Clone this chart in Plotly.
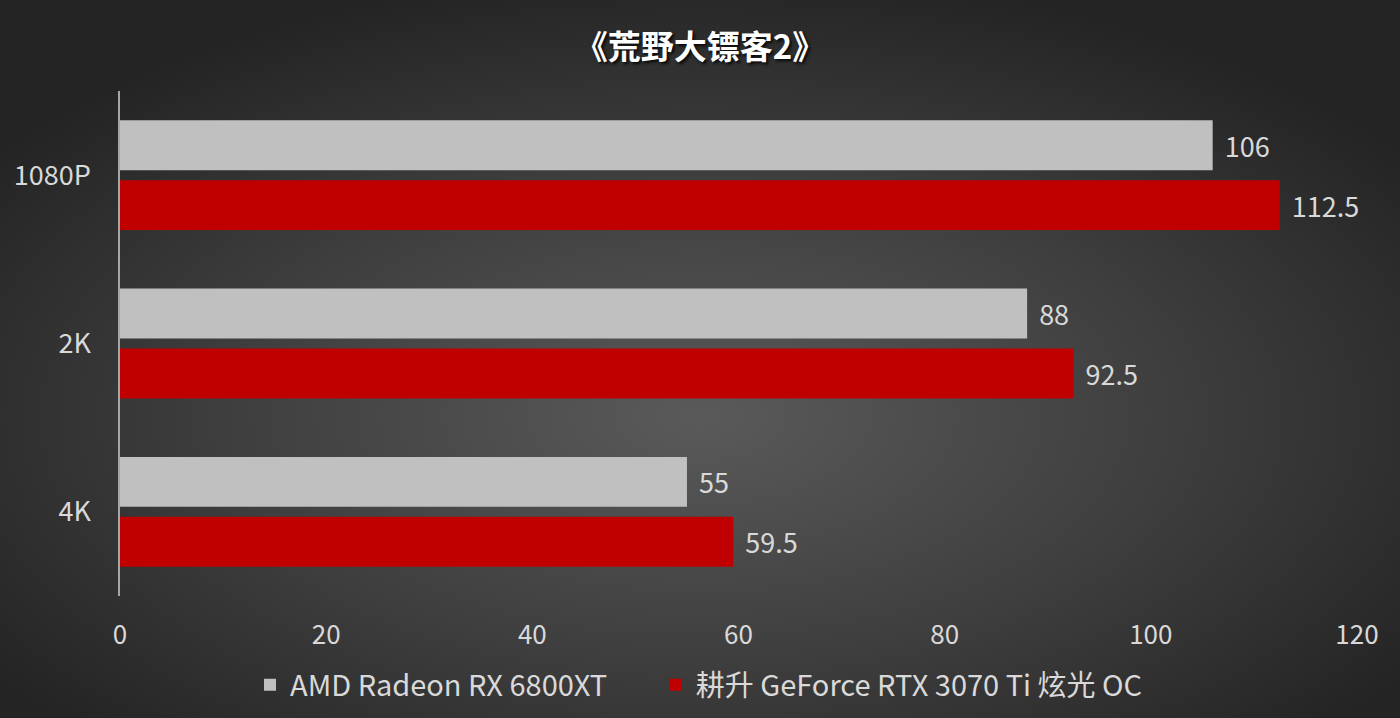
import base64
import plotly.graph_objects as go

categories = ["1080P", "2K", "4K"]
amd_name = "AMD Radeon RX 6800XT"
nv_name = "耕升 GeForce RTX 3070 Ti 炫光 OC"
amd_values = [106, 88, 55]
nv_values = [112.5, 92.5, 59.5]
x_ticks = [0, 20, 40, 60, 80, 100, 120]
title_text = "《荒野大镖客2》"

W, H = 1400, 718
ML, MR, MT, MB = 120, 43, 91, 122
PW, PH = W - ML - MR, H - MT - MB

svg = f'''<svg xmlns="http://www.w3.org/2000/svg" width="{W}" height="{H}" viewBox="0 0 {W} {H}" preserveAspectRatio="none">
<defs><radialGradient id="g" cx="50%" cy="58%" r="62%">
<stop offset="0" stop-color="#5a5a5a"/><stop offset="0.55" stop-color="#3e3e3e"/><stop offset="1" stop-color="#242424"/>
</radialGradient></defs><rect width="{W}" height="{H}" fill="url(#g)"/></svg>'''
bg_uri = "data:image/svg+xml;base64," + base64.b64encode(svg.encode()).decode()

FONT = "Noto Sans CJK SC, Open Sans, sans-serif"
TXT = "#d9d9d9"
PAD = "\u2004"
LEGEND_GAP = "\u2002\u2002\u2002"

fig = go.Figure()
fig.add_trace(go.Bar(
    y=categories, x=amd_values, orientation="h", name=amd_name + LEGEND_GAP,
    marker=dict(color="#c0c0c0", line=dict(width=0)),
    text=[f"{PAD}{v:g}" for v in amd_values], textposition="outside",
    textfont=dict(size=27, color=TXT, family=FONT), cliponaxis=False,
))
fig.add_trace(go.Bar(
    y=categories, x=nv_values, orientation="h", name=nv_name,
    marker=dict(color="#c00000", line=dict(width=0)),
    text=[f"{PAD}{v:g}" for v in nv_values], textposition="outside",
    textfont=dict(size=27, color=TXT, family=FONT), cliponaxis=False,
))

fig.update_layout(
    width=W, height=H,
    margin=dict(l=ML, r=MR, t=MT, b=MB, autoexpand=False),
    paper_bgcolor="#333333", plot_bgcolor="rgba(0,0,0,0)",
    barmode="group", bargap=0.288, bargroupgap=0.167,
    font=dict(family=FONT, color=TXT, size=26),
    title=dict(text=title_text, x=0.5, xanchor="center", y=0.9345, yanchor="middle",
               font=dict(size=33, color="#ffffff", family=FONT, weight="bold",
                         shadow="2px 2px 3px rgba(0,0,0,0.85)")),
    xaxis=dict(range=[0, 120], tickvals=x_ticks, showgrid=False, zeroline=False,
               showline=False, ticks="outside", ticklen=16, tickcolor="rgba(0,0,0,0)",
               tickfont=dict(size=26, color=TXT), automargin=False),
    yaxis=dict(autorange="reversed", showgrid=False, zeroline=False,
               showline=True, linecolor="#a6a6a6", linewidth=1.5,
               ticks="outside", ticklen=22, tickcolor="rgba(0,0,0,0)",
               tickfont=dict(size=27, color=TXT), automargin=False),
    legend=dict(orientation="h", x=(250 - ML) / PW, xanchor="left",
                y=-0.176, yanchor="middle",
                font=dict(size=29, color=TXT), bgcolor="rgba(0,0,0,0)",
                traceorder="normal", itemwidth=30),
    images=[dict(source=bg_uri, xref="paper", yref="paper",
                 x=-ML / PW, y=1 + MT / PH, sizex=W / PW, sizey=H / PH,
                 xanchor="left", yanchor="top", sizing="stretch", layer="below")],
)

fig.write_html("out.html", config={"displayModeBar": False},
               post_script="document.body.style.margin='0';document.body.style.overflow='hidden';")
